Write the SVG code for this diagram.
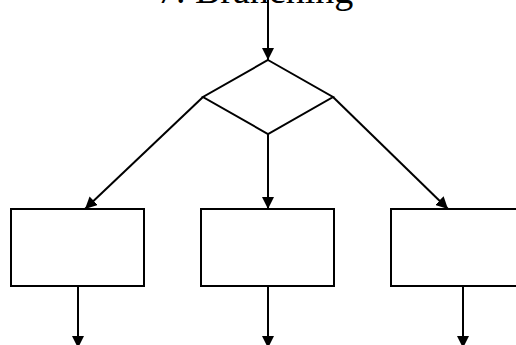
<svg xmlns="http://www.w3.org/2000/svg" width="516" height="345" viewBox="0 0 516 345">
  <style>
    .shape { fill: #ffffff; stroke: #000000; stroke-width: 2; }
    .edge { fill: none; stroke: #000000; stroke-width: 2; marker-end: url(#arrow); }
    .title { font-family: "Liberation Serif", "Times New Roman", serif; font-size: 38px; fill: #000000; }
  </style>
  <defs>
    <marker id="arrow" markerUnits="userSpaceOnUse" markerWidth="12" markerHeight="12" viewBox="0 0 12 12" refX="12" refY="6" orient="auto">
      <path d="M0,0 L12,6 L0,12 Z" fill="#000000"/>
    </marker>
  </defs>
  <rect width="516" height="345" fill="#ffffff"/>

  <text class="title" x="157" y="3">7. Branching</text>

  <g id="connectors">
    <line class="edge" x1="268" y1="0" x2="268" y2="60"/>
    <line class="edge" x1="203" y1="97" x2="85" y2="209"/>
    <line class="edge" x1="268" y1="134" x2="268" y2="209"/>
    <line class="edge" x1="333" y1="97" x2="448" y2="209"/>
    <line class="edge" x1="78" y1="286" x2="78" y2="348"/>
    <line class="edge" x1="268" y1="286" x2="268" y2="348"/>
    <line class="edge" x1="463" y1="286" x2="463" y2="348"/>
  </g>

  <g id="decision">
    <polygon class="shape" points="268,60 333,97 268,134 203,97"/>
  </g>
  <g id="left-branch">
    <rect class="shape" x="11" y="209" width="133" height="77"/>
  </g>
  <g id="middle-branch">
    <rect class="shape" x="201" y="209" width="133" height="77"/>
  </g>
  <g id="right-branch">
    <rect class="shape" x="391" y="209" width="140" height="77"/>
  </g>
</svg>
